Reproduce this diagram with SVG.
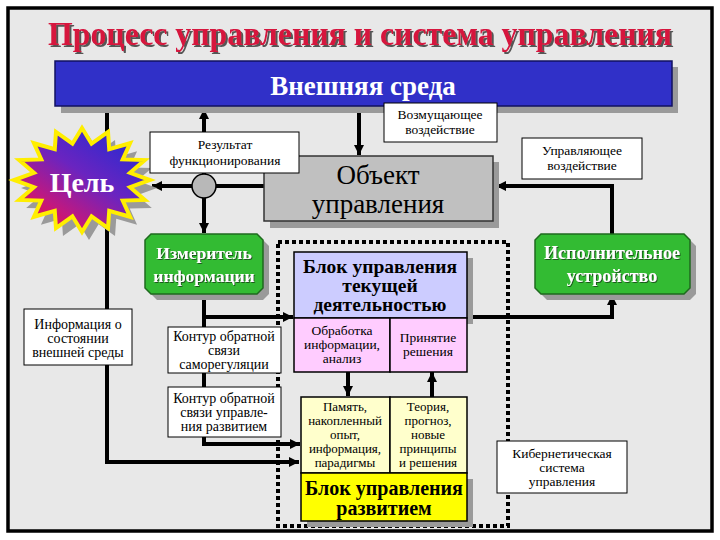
<svg xmlns="http://www.w3.org/2000/svg" width="720" height="540" viewBox="0 0 720 540" font-family="Liberation Serif, serif">
<defs>
<marker id="ah" markerUnits="userSpaceOnUse" markerWidth="12" markerHeight="12" refX="10" refY="6" orient="auto">
<path d="M0,1 L10,6 L0,11 Z" fill="#000"/>
</marker>
<linearGradient id="starg" x1="0.85" y1="0.1" x2="0.15" y2="0.9">
<stop offset="0" stop-color="#2a2ad0"/>
<stop offset="0.45" stop-color="#6a24c0"/>
<stop offset="0.8" stop-color="#c01880"/>
<stop offset="1" stop-color="#e8104a"/>
</linearGradient>
<filter id="tsh" x="-10%" y="-40%" width="120%" height="180%">
<feDropShadow dx="2" dy="2" stdDeviation="0.6" flood-color="#555" flood-opacity="1"/>
</filter>
<filter id="gsh" x="-10%" y="-40%" width="120%" height="180%">
<feDropShadow dx="1" dy="1" stdDeviation="0.3" flood-color="#1d5a1d" flood-opacity="1"/>
</filter>
<style>
text{text-anchor:middle}
.lbl{fill:#fff;stroke:#000;stroke-width:1}
.sm{font-size:13.5px;fill:#000}
.ys{font-size:13px;fill:#000}
.md{font-size:14px;fill:#000}
.conn{fill:none;stroke:#000;stroke-width:4}
.shd{fill:#9a9a9a}
.gt{font-size:17.5px;font-weight:bold;fill:#fff;filter:url(#gsh)}
.bt{font-size:19.5px;font-weight:bold;fill:#000}
</style>
</defs>
<rect x="0" y="0" width="720" height="540" fill="#fff"/>
<rect x="8" y="8" width="704" height="523" fill="#e8e8e8" stroke="#000" stroke-width="3.5"/>

<g id="title">
<text x="360" y="45" font-family="Liberation Serif, serif" font-size="33" font-weight="bold" fill="#d6123c" filter="url(#tsh)" textLength="624" lengthAdjust="spacingAndGlyphs">Процесс управления и система управления</text>
</g>

<g id="connectors">
<path class="conn" d="M107,106 V462 H299" marker-end="url(#ah)"/>
<path class="conn" d="M204,186 V109" marker-end="url(#ah)"/>
<path class="conn" d="M359,106 V155" marker-end="url(#ah)"/>
<path class="conn" d="M264,186 H152" marker-end="url(#ah)"/>
<path class="conn" d="M204,186 V233" marker-end="url(#ah)"/>
<path class="conn" d="M204,294 V317 H293" marker-end="url(#ah)"/>
<path class="conn" d="M204,317 V444 H300" marker-end="url(#ah)"/>
<path class="conn" d="M467,317 H612 V295" marker-end="url(#ah)"/>
<path class="conn" d="M612,234 V186 H496" marker-end="url(#ah)"/>
<path class="conn" d="M348,371 V396" marker-end="url(#ah)"/>
<path class="conn" d="M432,397 V372" marker-end="url(#ah)"/>
</g>

<g id="vneshnyaya-sreda">
<rect class="shd" x="61" y="67" width="617" height="46"/>
<rect x="55" y="61" width="617" height="45" fill="#3030c8" stroke="#101060" stroke-width="1.5"/>
<text x="363" y="95" font-family="Liberation Serif, serif" font-size="27" font-weight="bold" fill="#fff">Внешняя среда</text>
</g>

<g id="vozmushchayushchee">
<rect class="lbl" x="384" y="103" width="113" height="39"/>
<text class="sm" x="440" y="119" font-family="Liberation Serif, serif">Возмущающее</text>
<text class="sm" x="440" y="134" font-family="Liberation Serif, serif">воздействие</text>
</g>

<g id="uzel">
<circle cx="204" cy="186" r="12" fill="#b8b8b8" stroke="#000" stroke-width="1.5"/>
</g>

<g id="tsel">
<polygon transform="translate(7,8)" fill="#9a9a9a" points="82,128 91.56,143.71 108.02,131.96 109.22,149.23 130.08,143.23 122.74,159.44 144.83,160.1 130.06,172.78 150,180 130.06,187.22 144.83,199.9 122.74,200.56 130.08,216.77 109.22,210.77 108.02,228.04 91.56,216.29 82,232 72.44,216.29 55.98,228.04 54.78,210.77 33.92,216.77 41.26,200.56 19.17,199.9 33.94,187.22 14,180 33.94,172.78 19.17,160.1 41.26,159.44 33.92,143.23 54.78,149.23 55.98,131.96 72.44,143.71"/>
<polygon fill="url(#starg)" stroke="#ffee00" stroke-width="4" stroke-linejoin="miter" points="82,128 91.56,143.71 108.02,131.96 109.22,149.23 130.08,143.23 122.74,159.44 144.83,160.1 130.06,172.78 150,180 130.06,187.22 144.83,199.9 122.74,200.56 130.08,216.77 109.22,210.77 108.02,228.04 91.56,216.29 82,232 72.44,216.29 55.98,228.04 54.78,210.77 33.92,216.77 41.26,200.56 19.17,199.9 33.94,187.22 14,180 33.94,172.78 19.17,160.1 41.26,159.44 33.92,143.23 54.78,149.23 55.98,131.96 72.44,143.71"/>
<text x="82" y="192" font-family="Liberation Serif, serif" font-size="28" font-weight="bold" fill="#fff">Цель</text>
</g>

<g id="obekt">
<rect class="shd" x="270" y="162" width="229" height="66"/>
<rect x="264" y="156" width="229" height="65" fill="#c0c0c0" stroke="#333" stroke-width="1.5"/>
<text x="378" y="184" font-family="Liberation Serif, serif" font-size="27" fill="#000">Объект</text>
<text x="378" y="213" font-family="Liberation Serif, serif" font-size="27" fill="#000">управления</text>
</g>

<g id="rezultat">
<rect class="lbl" x="150" y="132" width="149" height="41"/>
<text class="sm" x="225" y="149" font-family="Liberation Serif, serif">Результат</text>
<text class="sm" x="225" y="165" font-family="Liberation Serif, serif">функционирования</text>
</g>

<g id="upravlyayushchee">
<rect class="lbl" x="522" y="138" width="120" height="41"/>
<text class="sm" x="582" y="155" font-family="Liberation Serif, serif">Управляющее</text>
<text class="sm" x="582" y="170" font-family="Liberation Serif, serif">воздействие</text>
</g>

<g id="izmeritel">
<polygon class="shd" transform="translate(6,6)" points="151,234 257,234 263,240 263,288 257,294 151,294 145,288 145,240"/>
<polygon fill="#33bb33" stroke="#1f6a1f" stroke-width="1.5" points="151,234 257,234 263,240 263,288 257,294 151,294 145,288 145,240"/>
<text class="gt" x="204" y="259" font-family="Liberation Serif, serif">Измеритель</text>
<text class="gt" x="204" y="282" font-family="Liberation Serif, serif">информации</text>
</g>

<g id="ispolnitelnoe">
<polygon class="shd" transform="translate(6,6)" points="541,234 684,234 690,240 690,288 684,294 541,294 535,288 535,240"/>
<polygon fill="#33bb33" stroke="#1f6a1f" stroke-width="1.5" points="541,234 684,234 690,240 690,288 684,294 541,294 535,288 535,240"/>
<text class="gt" x="612" y="259" font-family="Liberation Serif, serif" style="font-size:18px">Исполнительное</text>
<text class="gt" x="612" y="282" font-family="Liberation Serif, serif" style="font-size:18px">устройство</text>
</g>

<g id="kiberneticheskaya-sistema">
<rect x="278" y="242" width="230" height="284" fill="none" stroke="#000" stroke-width="4" stroke-dasharray="4 3"/>
</g>

<g id="blok-tekushchey">
<rect class="shd" x="300" y="258" width="173" height="66"/>
<rect x="294" y="252" width="173" height="66" fill="#ccccff" stroke="#000" stroke-width="1.5"/>
<text class="bt" x="380" y="273" font-family="Liberation Serif, serif">Блок управления</text>
<text class="bt" x="380" y="292" font-family="Liberation Serif, serif">текущей</text>
<text class="bt" x="380" y="311" font-family="Liberation Serif, serif">деятельностью</text>
</g>

<g id="obrabotka">
<rect x="294" y="318" width="96" height="54" fill="#ffccff" stroke="#000" stroke-width="1.5"/>
<text class="sm" x="342" y="335" font-family="Liberation Serif, serif">Обработка</text>
<text class="sm" x="342" y="349" font-family="Liberation Serif, serif">информации,</text>
<text class="sm" x="342" y="363" font-family="Liberation Serif, serif">анализ</text>
</g>

<g id="prinyatie">
<rect x="390" y="318" width="77" height="54" fill="#ffccff" stroke="#000" stroke-width="1.5"/>
<text class="sm" x="428" y="342" font-family="Liberation Serif, serif">Принятие</text>
<text class="sm" x="428" y="356" font-family="Liberation Serif, serif">решения</text>
</g>

<g id="pamyat">
<rect x="301" y="397" width="89" height="76" fill="#ffffcc" stroke="#000" stroke-width="1.5"/>
<text class="ys" x="345" y="411" font-family="Liberation Serif, serif">Память,</text>
<text class="ys" x="345" y="425" font-family="Liberation Serif, serif">накопленный</text>
<text class="ys" x="345" y="439" font-family="Liberation Serif, serif">опыт,</text>
<text class="ys" x="345" y="453" font-family="Liberation Serif, serif">информация,</text>
<text class="ys" x="345" y="467" font-family="Liberation Serif, serif">парадигмы</text>
</g>

<g id="teoriya">
<rect x="390" y="397" width="77" height="76" fill="#ffffcc" stroke="#000" stroke-width="1.5"/>
<text class="ys" x="428" y="411" font-family="Liberation Serif, serif">Теория,</text>
<text class="ys" x="428" y="425" font-family="Liberation Serif, serif">прогноз,</text>
<text class="ys" x="428" y="439" font-family="Liberation Serif, serif">новые</text>
<text class="ys" x="428" y="453" font-family="Liberation Serif, serif">принципы</text>
<text class="ys" x="428" y="467" font-family="Liberation Serif, serif">и решения</text>
</g>

<g id="blok-razvitiem">
<rect class="shd" x="307" y="479" width="166" height="48"/>
<rect x="301" y="473" width="166" height="48" fill="#ffff00" stroke="#000" stroke-width="1.5"/>
<text class="bt" x="384" y="495" font-family="Liberation Serif, serif" style="font-size:20px">Блок управления</text>
<text class="bt" x="384" y="515" font-family="Liberation Serif, serif" style="font-size:20px">развитием</text>
</g>

<g id="informatsiya-sreda">
<rect class="lbl" x="24" y="309" width="108" height="56"/>
<text class="md" x="78" y="329" font-family="Liberation Serif, serif">Информация о</text>
<text class="md" x="78" y="343" font-family="Liberation Serif, serif">состоянии</text>
<text class="md" x="78" y="357" font-family="Liberation Serif, serif">внешней среды</text>
</g>

<g id="kontur-samoregulyatsii">
<rect class="lbl" x="168" y="327" width="113" height="46"/>
<text class="md" x="224" y="341" font-family="Liberation Serif, serif">Контур обратной</text>
<text class="md" x="224" y="355" font-family="Liberation Serif, serif">связи</text>
<text class="md" x="224" y="369" font-family="Liberation Serif, serif">саморегуляции</text>
</g>

<g id="kontur-razvitiem">
<rect class="lbl" x="168" y="387" width="113" height="50"/>
<text class="md" x="224" y="403" font-family="Liberation Serif, serif">Контур обратной</text>
<text class="md" x="224" y="417" font-family="Liberation Serif, serif">связи управле-</text>
<text class="md" x="224" y="431" font-family="Liberation Serif, serif">ния развитием</text>
</g>

<g id="kiberneticheskaya-label">
<rect class="lbl" x="497" y="441" width="130" height="52"/>
<text class="sm" x="562" y="458" font-family="Liberation Serif, serif">Кибернетическая</text>
<text class="sm" x="562" y="472" font-family="Liberation Serif, serif">система</text>
<text class="sm" x="562" y="486" font-family="Liberation Serif, serif">управления</text>
</g>
</svg>
